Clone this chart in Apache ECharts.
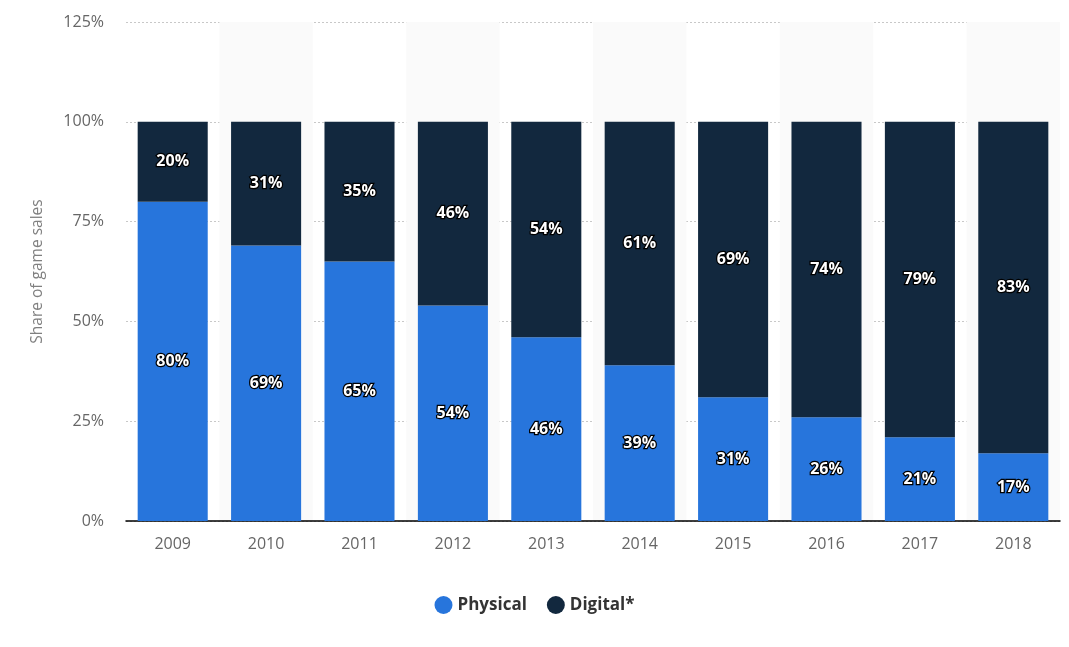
<!DOCTYPE html>
<html><head><meta charset="utf-8">
<script src="https://cdn.jsdelivr.net/npm/echarts@6/dist/echarts.min.js"></script>
<style>html,body{margin:0;padding:0;background:#fff}#c{width:1069px;height:647px}</style>
</head><body><div id="c"></div>
<script>
const years = ['2009','2010','2011','2012','2013','2014','2015','2016','2017','2018'];
const physical = [80,69,65,54,46,39,31,26,21,17];
const digital = [20,31,35,46,54,61,69,74,79,83];
const yTicks = [0,25,50,75,100,125];

const chart = echarts.init(document.getElementById('c'));
const labelStyle = {
  show: true, position: 'inside', formatter: '{c}%',
  color: '#fff', fontWeight: 'bold', fontSize: 16, fontFamily: 'Open Sans',
  textBorderColor: '#000', textBorderWidth: 2.5
};
chart.setOption({
  animation: false,
  textStyle: { fontFamily: 'Open Sans' },
  grid: { left: 126, right: 9, top: 22, bottom: 126 },
  legend: {
    bottom: 28, left: 'center', icon: 'circle', itemWidth: 18, itemHeight: 18, itemGap: 20,
    textStyle: { fontSize: 17, fontWeight: 'bold', color: '#333' },
    data: ['Physical','Digital*']
  },
  xAxis: {
    type: 'category', data: years,
    axisLine: { lineStyle: { color: '#000', width: 1.5 } },
    axisTick: { show: false },
    axisLabel: { color: '#666', fontSize: 16, margin: 15 },
    splitArea: { show: true, areaStyle: { color: ['rgba(255,255,255,0)', '#fafafa'] } }
  },
  yAxis: {
    type: 'value', min: 0, max: 125, interval: 25,
    name: 'Share of game sales', nameLocation: 'middle', nameGap: 80,
    nameTextStyle: { color: '#808080', fontSize: 15.5 },
    axisLabel: { color: '#666', fontSize: 16, margin: 22, formatter: v => yTicks.includes(v) ? v + '%' : '' },
    axisLine: { show: false }, axisTick: { show: false },
    splitLine: { lineStyle: { color: '#c8c8c8', type: [2,2] } }
  },
  series: [
    { name: 'Physical', type: 'bar', stack: 's', data: physical, barCategoryGap: '25%',
      itemStyle: { color: '#2775dc' },
      label: labelStyle },
    { name: 'Digital*', type: 'bar', stack: 's', data: digital, barCategoryGap: '25%',
      itemStyle: { color: '#12283e' },
      label: labelStyle }
  ]
});
</script></body></html>
